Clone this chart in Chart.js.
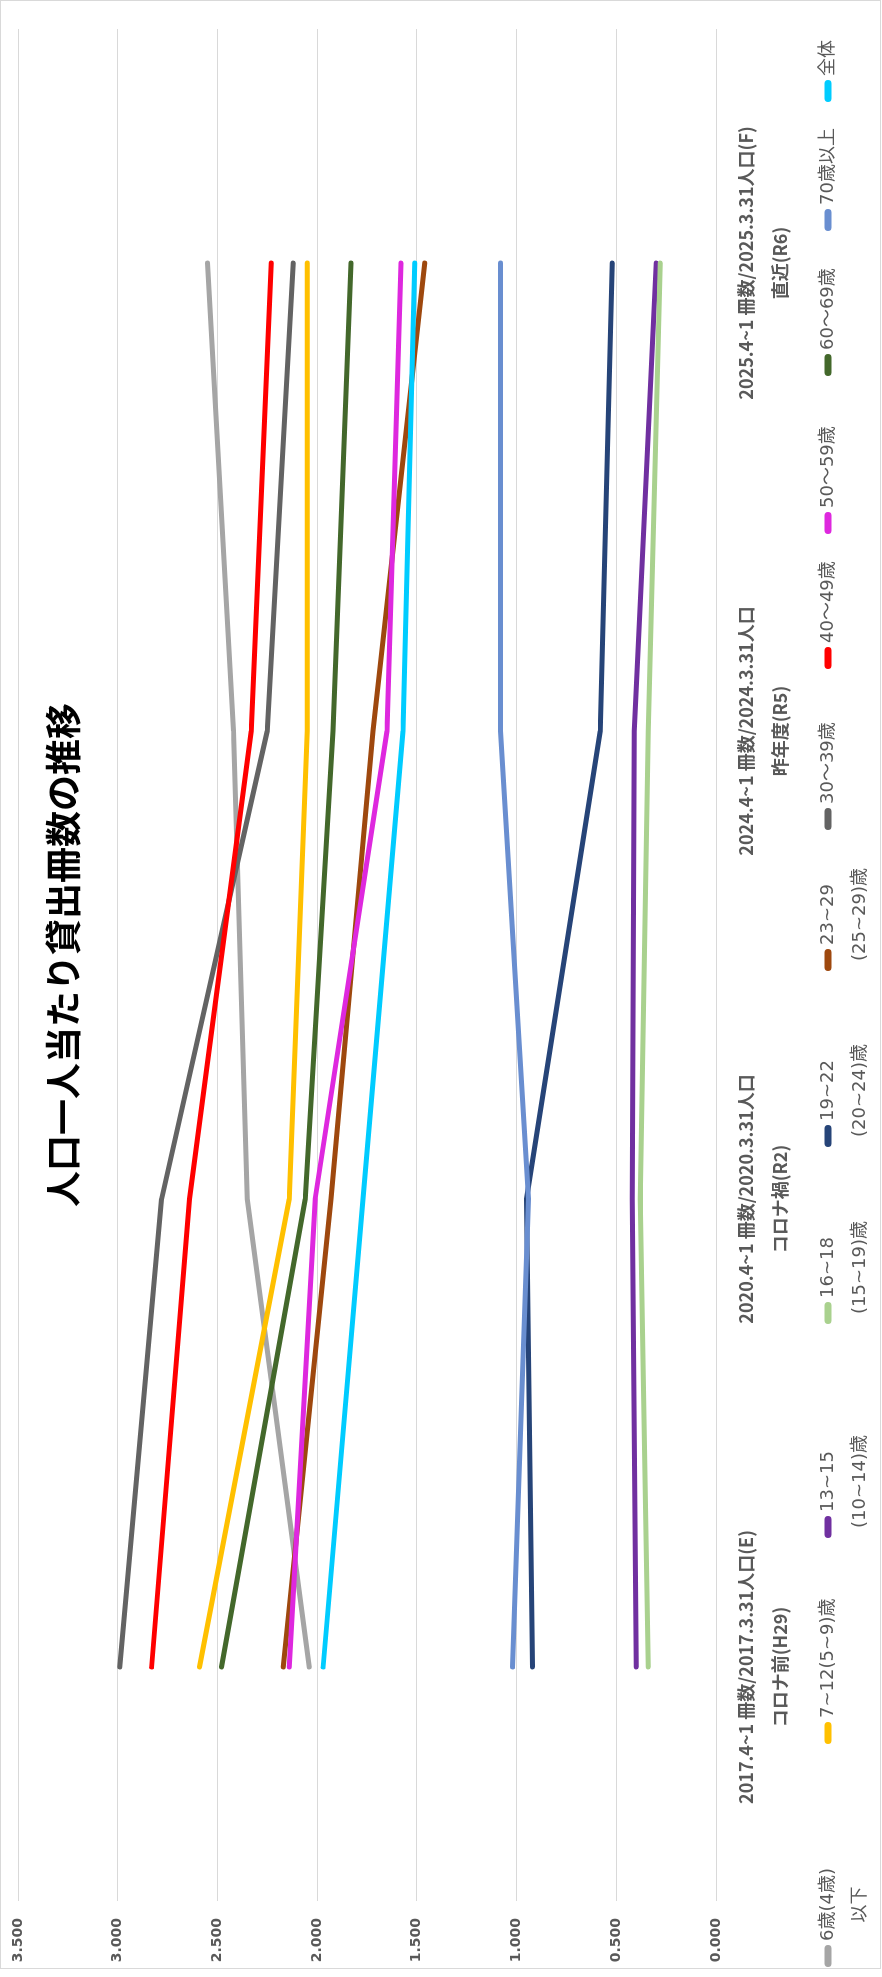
<!DOCTYPE html>
<html>
<head>
<meta charset="utf-8">
<script src="https://cdn.jsdelivr.net/npm/chart.js@4"></script>
<style>
html, body { margin: 0; padding: 0; background: #fff; overflow: hidden; }
#wrap {
	position: absolute; left: 0; top: 0;
	width: 1977px; height: 882px;
	transform-origin: 0 0;
	transform: translate(0, 1977px) rotate(-90deg);
}
</style>
</head>
<body>
<div id="wrap"><canvas id="myChart" width="1977" height="882"></canvas></div>
<script>
// categories (x axis, two lines each)
const periods = [
	['2017.4~1 冊数/2017.3.31人口(E)', 'コロナ前(H29)'],
	['2020.4~1 冊数/2020.3.31人口', 'コロナ禍(R2)'],
	['2024.4~1 冊数/2024.3.31人口', '昨年度(R5)'],
	['2025.4~1 冊数/2025.3.31人口(F)', '直近(R6)']
];

// series names as shown in the legend (wrapped lines)
const seriesNames = [
	['6歳(4歳)', '以下'],
	['7~12(5~9)歳'],
	['13~15', '(10~14)歳'],
	['16~18', '(15~19)歳'],
	['19~22', '(20~24)歳'],
	['23~29', '(25~29)歳'],
	['30～39歳'],
	['40～49歳'],
	['50～59歳'],
	['60～69歳'],
	['70歳以上'],
	['全体']
];

// loans per person
const age0to6 = [2.04, 2.35, 2.42, 2.55];
const age7to12 = [2.59, 2.14, 2.05, 2.05];
const age13to15 = [0.40, 0.42, 0.41, 0.30];
const age16to18 = [0.34, 0.38, 0.34, 0.28];
const age19to22 = [0.92, 0.95, 0.58, 0.52];
const age23to29 = [2.17, 1.93, 1.72, 1.46];
const age30to39 = [2.99, 2.78, 2.25, 2.12];
const age40to49 = [2.83, 2.64, 2.33, 2.23];
const age50to59 = [2.14, 2.01, 1.65, 1.58];
const age60to69 = [2.48, 2.06, 1.92, 1.83];
const age70plus = [1.02, 0.94, 1.08, 1.08];
const allAges = [1.97, 1.77, 1.57, 1.51];

// value axis ticks
const yTicks = [0, 0.5, 1, 1.5, 2, 2.5, 3, 3.5];

const seriesValues = [age0to6, age7to12, age13to15, age16to18, age19to22, age23to29,
	age30to39, age40to49, age50to59, age60to69, age70plus, allAges];
const colors = ['#A5A5A5', '#FFC000', '#7030A0', '#A9D18E', '#264478', '#9E480E',
	'#636363', '#FF0000', '#DE28DE', '#43682B', '#698ED0', '#00CCFF'];

// where each legend entry starts along the bottom edge
const legendSlots = [10, 233, 439, 653, 830, 1006, 1147, 1308, 1443, 1601, 1746, 1875];

const GRAY = '#595959';
const JP = '"Noto Sans CJK JP", "Noto Sans", sans-serif';

const datasets = seriesValues.map((vals, i) => ({
	label: seriesNames[i].join(''),
	data: vals,
	borderColor: colors[i],
	backgroundColor: colors[i],
	borderWidth: 5,
	borderCapStyle: 'round',
	borderJoinStyle: 'round',
	pointRadius: 0,
	tension: 0,
	order: seriesValues.length - i
}));

// chart title drawn over the plot, like the original
const titlePlugin = {
	id: 'overTitle',
	afterDraw(chart) {
		const ctx = chart.ctx;
		const area = chart.chartArea;
		ctx.save();
		ctx.fillStyle = '#000';
		ctx.font = 'bold 36px ' + JP;
		ctx.textAlign = 'center';
		ctx.textBaseline = 'middle';
		ctx.fillText('人口一人当たり貸出冊数の推移', (area.left + area.right) / 2 + 10, 63);
		ctx.restore();
	}
};

// legend under the axis; wrapped lines are centred on the first one
const legendPlugin = {
	id: 'wrapLegend',
	afterDraw(chart) {
		const ctx = chart.ctx;
		ctx.save();
		ctx.font = '18px "DejaVu Sans", ' + JP;
		ctx.textBaseline = 'middle';
		ctx.textAlign = 'center';
		const markLen = 22, lineY = 828, lineStep = 32;
		chart.data.datasets.forEach((ds, i) => {
			const x = legendSlots[i];
			ctx.strokeStyle = ds.borderColor;
			ctx.lineWidth = 7;
			ctx.lineCap = 'round';
			ctx.beginPath();
			ctx.moveTo(x + 3.5, lineY);
			ctx.lineTo(x + markLen - 3.5, lineY);
			ctx.stroke();
			ctx.fillStyle = GRAY;
			const lines = seriesNames[i];
			const mid = x + markLen + 4 + ctx.measureText(lines[0]).width / 2;
			lines.forEach((t, k) => {
				ctx.fillText(t, mid, lineY + k * lineStep);
			});
		});
		ctx.restore();
	}
};

const framePlugin = {
	id: 'frame',
	beforeDraw(chart) {
		const ctx = chart.ctx;
		ctx.save();
		ctx.fillStyle = '#fff';
		ctx.fillRect(0, 0, chart.width, chart.height);
		ctx.strokeStyle = '#d9d9d9';
		ctx.lineWidth = 1;
		ctx.strokeRect(8.5, 0.5, chart.width - 9, chart.height - 2);
		ctx.restore();
	}
};

const config = {
	type: 'line',
	data: { labels: periods, datasets },
	options: {
		responsive: false,
		animation: false,
		devicePixelRatio: 1,
		layout: { padding: { left: 10, right: 29, top: 18, bottom: 76 } },
		plugins: {
			legend: { display: false },
			title: { display: false },
			tooltip: { enabled: false }
		},
		scales: {
			x: {
				offset: true,
				grid: { display: false },
				border: { display: false },
				ticks: {
					color: GRAY,
					font: { family: JP, size: 18, weight: 'bold', lineHeight: 1.9 },
					padding: 5,
					maxRotation: 0,
					autoSkip: false
				},
				afterFit(scale) { scale.height = 90; }
			},
			y: {
				min: 0,
				max: 3.5,
				afterBuildTicks(scale) { scale.ticks = yTicks.map(v => ({ value: v })); },
				grid: { color: '#d9d9d9', lineWidth: 1, drawTicks: false },
				border: { display: false },
				ticks: {
					color: GRAY,
					font: { family: '"DejaVu Sans"', size: 14, weight: 'bold' },
					padding: 17,
					callback: v => Number(v).toFixed(3)
				},
				afterFit(scale) {
					scale.width = 66;
					scale.paddingTop = 0;
					scale.paddingBottom = 0;
				}
			}
		}
	},
	plugins: [framePlugin, titlePlugin, legendPlugin]
};

const myChart = new Chart(document.getElementById('myChart'), config);
</script>
</body>
</html>
